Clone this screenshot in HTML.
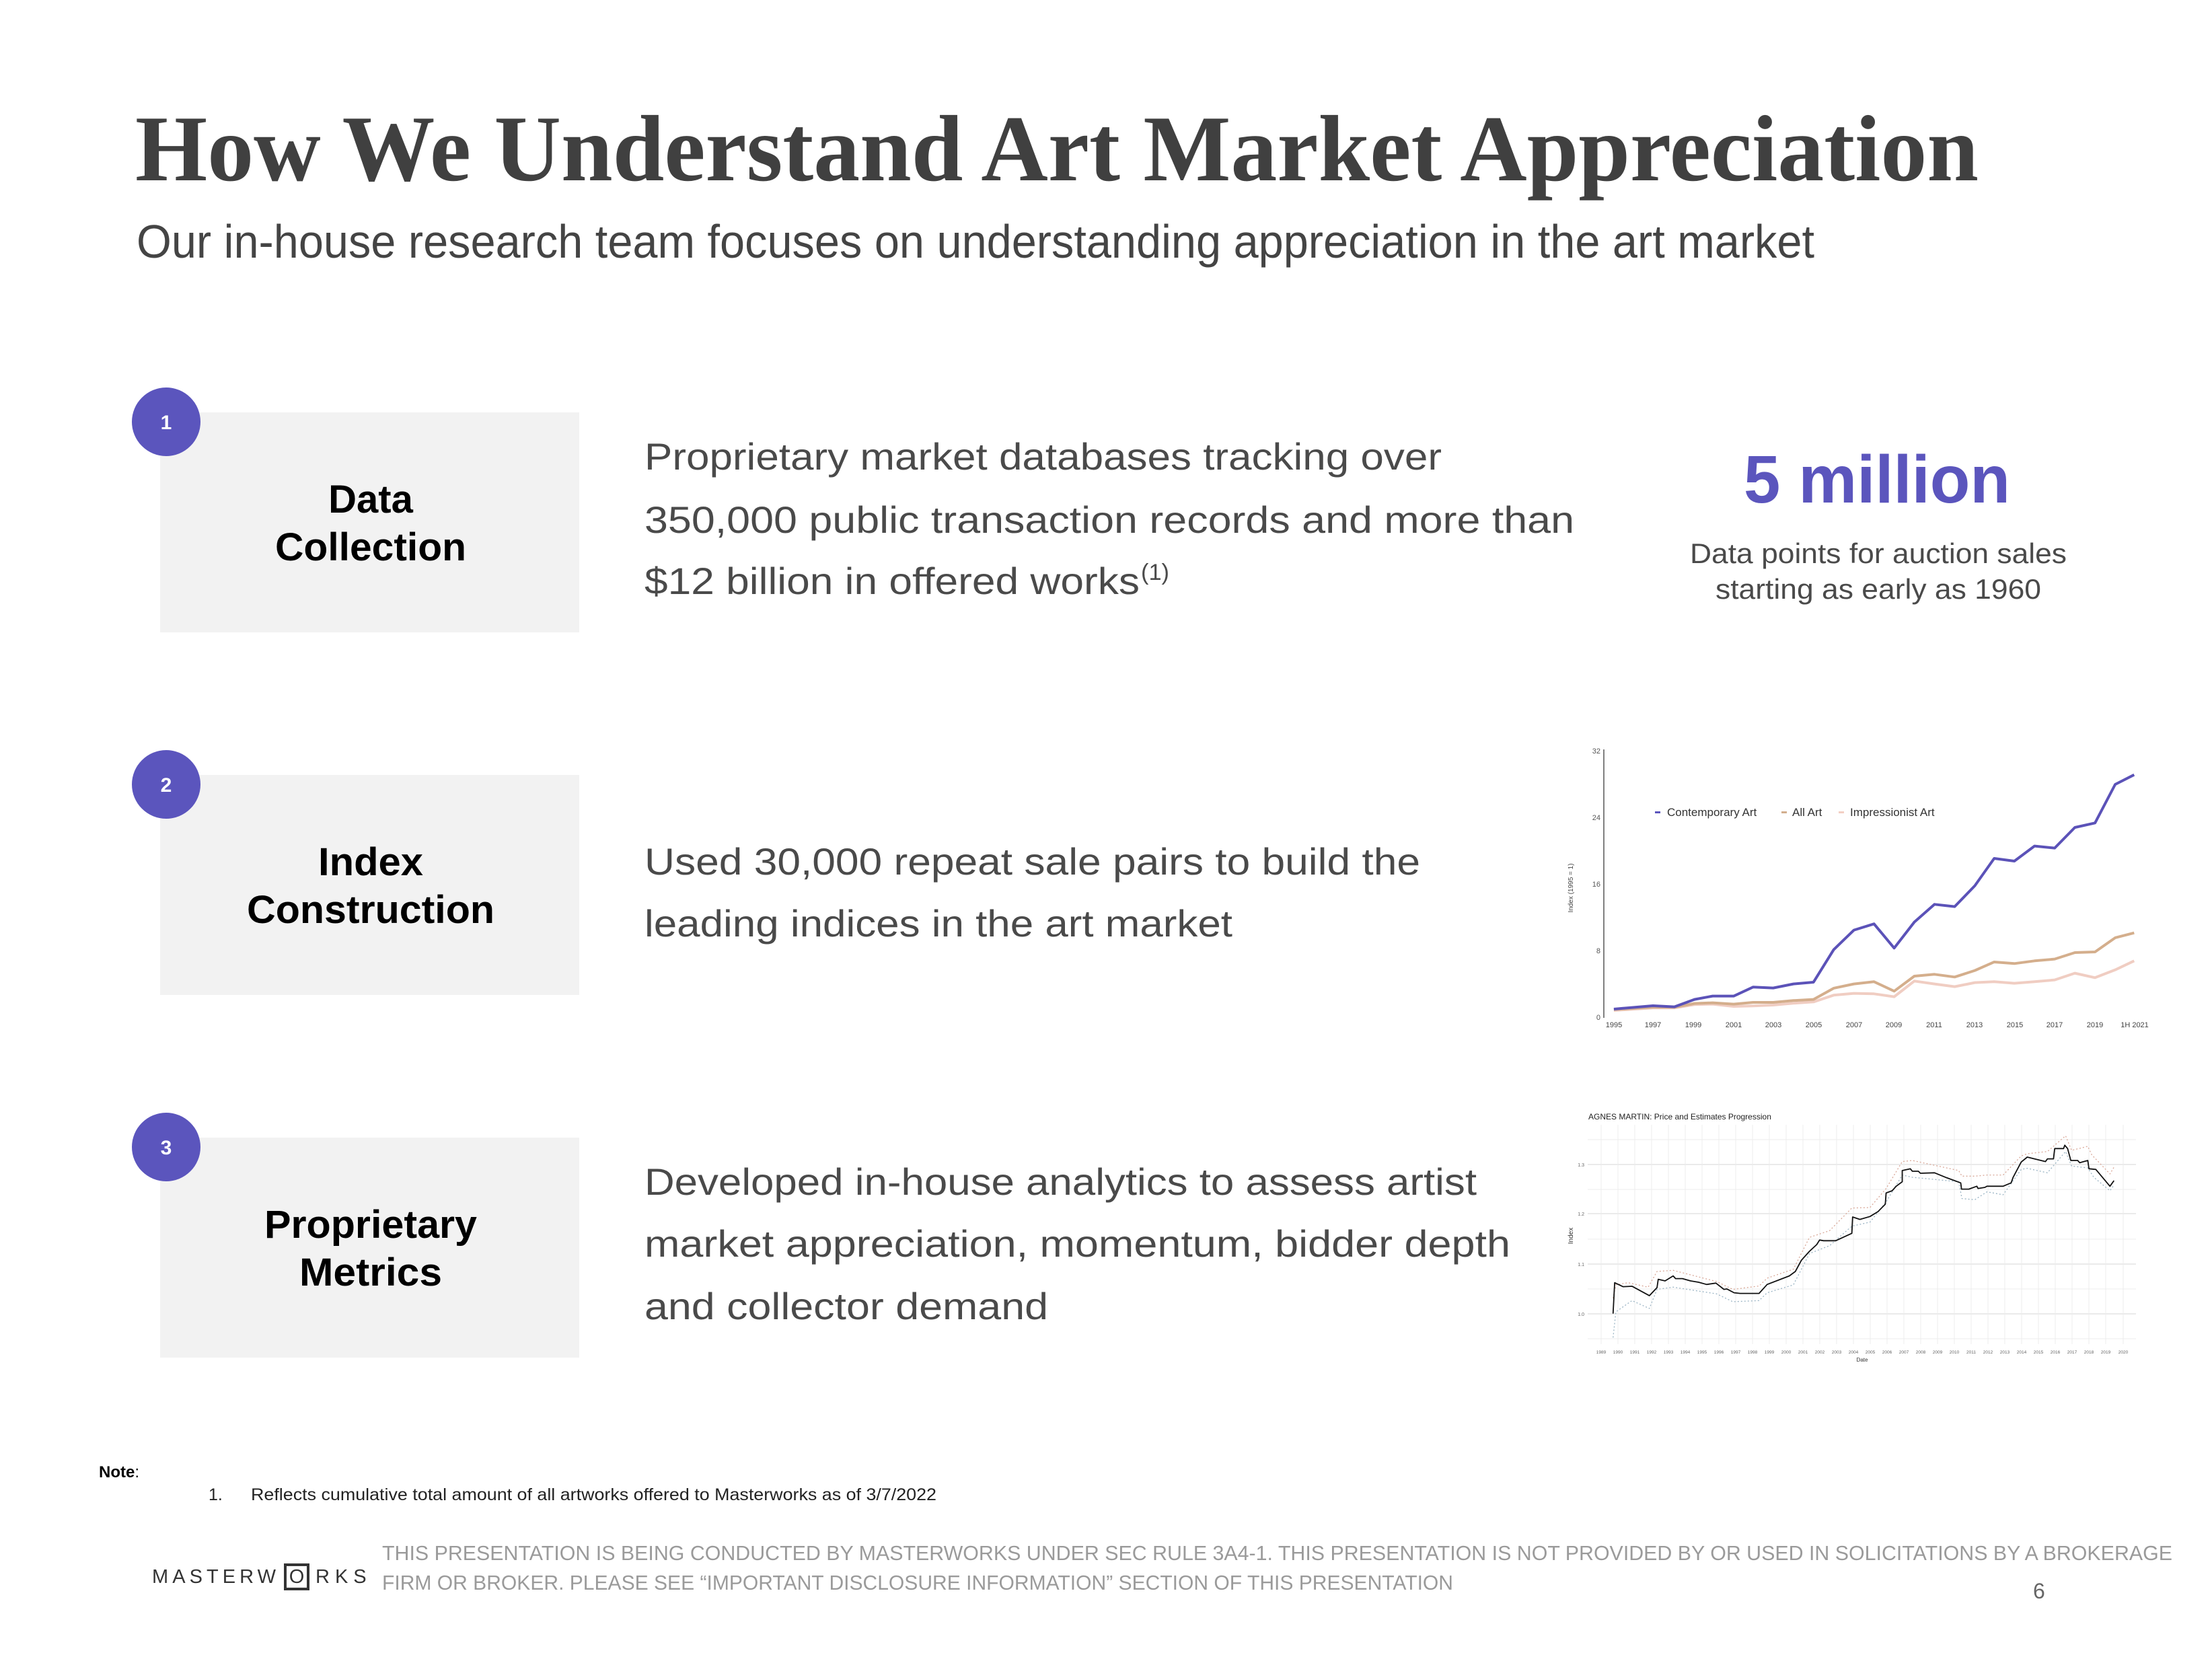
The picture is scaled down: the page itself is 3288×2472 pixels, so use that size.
<!DOCTYPE html>
<html><head><meta charset="utf-8"><style>html,body{margin:0;padding:0;background:#fff}svg{display:block}</style></head>
<body>
<svg width="3288" height="2472" viewBox="0 0 3288 2472" xmlns="http://www.w3.org/2000/svg" font-family="Liberation Sans, sans-serif">
<rect width="3288" height="2472" fill="#fff"/>
<text x="201" y="268" font-family="Liberation Serif, serif" font-weight="bold" font-size="140" fill="#404040" textLength="2740" lengthAdjust="spacingAndGlyphs">How We Understand Art Market Appreciation</text>
<text x="203" y="383" font-size="70" fill="#444" textLength="2494" lengthAdjust="spacingAndGlyphs">Our in-house research team focuses on understanding appreciation in the art market</text>

<g fill="#f2f2f2">
<rect x="238" y="613" width="623" height="327"/>
<rect x="238" y="1152" width="623" height="327"/>
<rect x="238" y="1691" width="623" height="327"/>
</g>
<g fill="#5b55bd">
<circle cx="247" cy="627" r="51"/><circle cx="247" cy="1166" r="51"/><circle cx="247" cy="1705" r="51"/>
</g>
<g fill="#fff" font-weight="bold" font-size="30" text-anchor="middle">
<text x="247" y="638">1</text><text x="247" y="1177">2</text><text x="247" y="1716">3</text>
</g>
<g font-weight="bold" font-size="58" fill="#000" text-anchor="middle">
<text x="551" y="762">Data</text>
<text x="551" y="833" textLength="284" lengthAdjust="spacingAndGlyphs">Collection</text>
<text x="551" y="1301" textLength="156" lengthAdjust="spacingAndGlyphs">Index</text>
<text x="551" y="1372" textLength="368" lengthAdjust="spacingAndGlyphs">Construction</text>
<text x="551" y="1840" textLength="316" lengthAdjust="spacingAndGlyphs">Proprietary</text>
<text x="551" y="1911" textLength="212" lengthAdjust="spacingAndGlyphs">Metrics</text>
</g>

<g font-size="56" fill="#4a4a4a">
<text x="958" y="698" textLength="1185" lengthAdjust="spacingAndGlyphs">Proprietary market databases tracking over</text>
<text x="958" y="792" textLength="1382" lengthAdjust="spacingAndGlyphs">350,000 public transaction records and more than</text>
<text x="958" y="883" textLength="736" lengthAdjust="spacingAndGlyphs">$12 billion in offered works</text>
<text x="1696" y="862" font-size="34" textLength="42" lengthAdjust="spacingAndGlyphs">(1)</text>
<text x="958" y="1300" textLength="1153" lengthAdjust="spacingAndGlyphs">Used 30,000 repeat sale pairs to build the</text>
<text x="958" y="1392" textLength="874" lengthAdjust="spacingAndGlyphs">leading indices in the art market</text>
<text x="958" y="1776" textLength="1237" lengthAdjust="spacingAndGlyphs">Developed in-house analytics to assess artist</text>
<text x="958" y="1868" textLength="1287" lengthAdjust="spacingAndGlyphs">market appreciation, momentum, bidder depth</text>
<text x="958" y="1961" textLength="600" lengthAdjust="spacingAndGlyphs">and collector demand</text>
</g>

<text x="2592" y="747" font-size="100" font-weight="bold" fill="#5b55bd" textLength="396" lengthAdjust="spacingAndGlyphs">5 million</text>
<text x="2512" y="837" font-size="42" fill="#4a4a4a" textLength="560" lengthAdjust="spacingAndGlyphs">Data points for auction sales</text>
<text x="2550" y="890" font-size="42" fill="#4a4a4a" textLength="484" lengthAdjust="spacingAndGlyphs">starting as early as 1960</text>

<!-- Chart 1 -->
<line x1="2384" y1="1114" x2="2384" y2="1513" stroke="#555" stroke-width="1.5"/>
<g font-size="11" fill="#555" text-anchor="end">
<text x="2379" y="1120">32</text><text x="2379" y="1219">24</text><text x="2379" y="1318">16</text><text x="2379" y="1417">8</text><text x="2379" y="1516">0</text>
</g>
<text transform="translate(2338,1320) rotate(-90)" font-size="10" fill="#444" text-anchor="middle">Index (1995 = 1)</text>
<g font-size="11" fill="#444" text-anchor="middle">
<text x="2399" y="1527">1995</text><text x="2457" y="1527">1997</text><text x="2517" y="1527">1999</text><text x="2577" y="1527">2001</text><text x="2636" y="1527">2003</text><text x="2696" y="1527">2005</text><text x="2756" y="1527">2007</text><text x="2815" y="1527">2009</text><text x="2875" y="1527">2011</text><text x="2935" y="1527">2013</text><text x="2995" y="1527">2015</text><text x="3054" y="1527">2017</text><text x="3114" y="1527">2019</text><text x="3173" y="1527">1H 2021</text>
</g>
<g font-size="17" fill="#333">
<rect x="2460" y="1206" width="8" height="3" fill="#5b55bd"/><text x="2478" y="1213">Contemporary Art</text>
<rect x="2648" y="1206" width="8" height="3" fill="#d2ae8e"/><text x="2664" y="1213">All Art</text>
<rect x="2733" y="1206" width="8" height="3" fill="#f3cfc4"/><text x="2750" y="1213">Impressionist Art</text>
</g>
<g transform="translate(2300,1090) scale(0.5995,0.3333)" fill="none" stroke-linejoin="round">
<polyline vector-effect="non-scaling-stroke" stroke="#f0cdc2" stroke-width="4" points="165,1236 262,1225 315,1225 365,1210 410,1208 462,1218 510,1216 560,1212 610,1204 660,1198 710,1168 760,1160 810,1162 860,1175 910,1105 960,1118 1010,1130 1060,1112 1108,1108 1158,1115 1208,1108 1258,1100 1308,1070 1358,1090 1408,1055 1455,1015"/>
<polyline vector-effect="non-scaling-stroke" stroke="#d4ae8c" stroke-width="4" points="165,1232 262,1222 315,1222 365,1205 410,1202 462,1208 510,1200 560,1200 610,1192 660,1187 710,1137 760,1118 810,1108 860,1150 910,1083 960,1075 1010,1087 1060,1058 1108,1020 1158,1027 1208,1015 1258,1007 1308,978 1358,975 1408,912 1455,890"/>
<polyline vector-effect="non-scaling-stroke" stroke="#5b52b8" stroke-width="4" points="165,1230 262,1215 315,1220 365,1187 410,1172 462,1172 510,1132 560,1136 610,1118 660,1110 710,965 760,878 810,850 860,958 910,842 960,763 1010,773 1060,680 1108,558 1158,570 1208,503 1258,512 1308,420 1358,400 1408,228 1455,185"/>
</g>

<!-- Chart 2 -->
<text x="2361" y="1664" font-size="12" fill="#222">AGNES MARTIN: Price and Estimates Progression</text>
<g stroke="#ececec" stroke-width="1">
<line x1="2360" x2="3175" y1="1990" y2="1990"/><line x1="2360" x2="3175" y1="1916" y2="1916"/><line x1="2360" x2="3175" y1="1842" y2="1842"/><line x1="2360" x2="3175" y1="1768" y2="1768"/><line x1="2360" x2="3175" y1="1694" y2="1694"/>
</g>
<g stroke="#e4e4e4" stroke-width="1.5">
<line x1="2360" x2="3175" y1="1953" y2="1953"/><line x1="2360" x2="3175" y1="1879" y2="1879"/><line x1="2360" x2="3175" y1="1804" y2="1804"/><line x1="2360" x2="3175" y1="1731" y2="1731"/>
</g>
<g stroke="#ececec" stroke-width="1">
<path d="M2380 1672V1998M2405 1672V1998M2430 1672V1998M2455 1672V1998M2480 1672V1998M2505 1672V1998M2530 1672V1998M2555 1672V1998M2580 1672V1998M2605 1672V1998M2630 1672V1998M2655 1672V1998M2680 1672V1998M2705 1672V1998M2730 1672V1998M2755 1672V1998M2780 1672V1998M2805 1672V1998M2830 1672V1998M2855 1672V1998M2880 1672V1998M2905 1672V1998M2930 1672V1998M2955 1672V1998M2980 1672V1998M3005 1672V1998M3030 1672V1998M3055 1672V1998M3080 1672V1998M3105 1672V1998M3130 1672V1998M3156 1672V1998"/>
</g>
<g font-size="7" fill="#666" text-anchor="end">
<text x="2355" y="1956">1.0</text><text x="2355" y="1882">1.1</text><text x="2355" y="1807">1.2</text><text x="2355" y="1734">1.3</text>
</g>
<text transform="translate(2338,1837) rotate(-90)" font-size="10" fill="#333" text-anchor="middle">Index</text>
<g font-size="6.5" fill="#666" text-anchor="middle">
<text x="2380" y="2012">1989</text><text x="2405" y="2012">1990</text><text x="2430" y="2012">1991</text><text x="2455" y="2012">1992</text><text x="2480" y="2012">1993</text><text x="2505" y="2012">1994</text><text x="2530" y="2012">1995</text><text x="2555" y="2012">1996</text><text x="2580" y="2012">1997</text><text x="2605" y="2012">1998</text><text x="2630" y="2012">1999</text><text x="2655" y="2012">2000</text><text x="2680" y="2012">2001</text><text x="2705" y="2012">2002</text><text x="2730" y="2012">2003</text><text x="2755" y="2012">2004</text><text x="2780" y="2012">2005</text><text x="2805" y="2012">2006</text><text x="2830" y="2012">2007</text><text x="2855" y="2012">2008</text><text x="2880" y="2012">2009</text><text x="2905" y="2012">2010</text><text x="2930" y="2012">2011</text><text x="2955" y="2012">2012</text><text x="2980" y="2012">2013</text><text x="3005" y="2012">2014</text><text x="3030" y="2012">2015</text><text x="3055" y="2012">2016</text><text x="3080" y="2012">2017</text><text x="3105" y="2012">2018</text><text x="3130" y="2012">2019</text><text x="3156" y="2012">2020</text>
</g>
<text x="2768" y="2024" font-size="8" fill="#333" text-anchor="middle">Date</text>
<g transform="translate(2300,1630) scale(0.5995,0.3333)" fill="none" stroke-linejoin="round">
<polyline vector-effect="non-scaling-stroke" stroke="#d9a898" stroke-width="1.3" stroke-dasharray="2,3" points="163,900 170,840 200,830 250,850 272,780 312,775 420,825 460,860 525,845 545,810 610,770 650,628 700,598 755,497 800,495 840,410 880,290 905,285 1020,330 1028,355 1060,355 1090,350 1130,350 1175,265 1190,255 1240,245 1285,175 1300,240 1340,222 1350,260 1395,345 1405,315"/>
<polyline vector-effect="non-scaling-stroke" stroke="#9ab4c4" stroke-width="1.3" stroke-dasharray="2,3" points="163,1075 170,960 210,910 253,945 272,860 312,850 420,880 460,915 525,910 545,875 610,840 650,700 700,665 755,578 800,560 840,470 880,350 905,360 1020,380 1028,455 1060,460 1090,425 1130,438 1175,325 1190,320 1240,340 1285,245 1300,310 1340,318 1355,360 1395,420 1405,395"/>
<polyline vector-effect="non-scaling-stroke" stroke="#111" stroke-width="1.8" points="163,968 167,830 188,848 210,846 253,888 272,852 275,815 292,822 312,800 318,812 335,812 355,822 375,828 395,838 418,832 438,860 445,858 463,875 478,878 525,878 545,838 600,800 615,780 630,730 650,690 668,660 675,640 685,643 715,643 755,610 757,537 775,548 800,535 820,513 838,480 840,430 855,420 865,400 880,380 880,330 900,322 905,333 920,333 925,342 960,340 990,362 1025,385 1027,413 1045,413 1065,400 1068,410 1085,405 1090,400 1130,400 1150,385 1155,360 1175,292 1190,270 1235,290 1240,278 1255,278 1258,232 1280,232 1283,217 1290,232 1298,285 1315,285 1320,295 1340,285 1343,322 1360,325 1395,400 1405,375"/>
</g>

<!-- Footer -->
<text x="147" y="2196" font-size="24" font-weight="bold" fill="#000">Note<tspan font-weight="normal">:</tspan></text>
<text x="310" y="2230" font-size="25" fill="#222">1.</text>
<text x="373" y="2230" font-size="25" fill="#222" textLength="1019" lengthAdjust="spacingAndGlyphs">Reflects cumulative total amount of all artworks offered to Masterworks as of 3/7/2022</text>
<text x="568" y="2319" font-size="31" fill="#9a9a9a" textLength="2661" lengthAdjust="spacingAndGlyphs">THIS PRESENTATION  IS BEING CONDUCTED BY MASTERWORKS UNDER SEC RULE 3A4-1. THIS PRESENTATION  IS NOT PROVIDED BY OR USED IN SOLICITATIONS BY A BROKERAGE</text>
<text x="568" y="2363" font-size="31" fill="#9a9a9a" textLength="1592" lengthAdjust="spacingAndGlyphs">FIRM OR BROKER. PLEASE SEE “IMPORTANT DISCLOSURE INFORMATION” SECTION OF THIS PRESENTATION</text>
<text x="226" y="2353" font-size="29" fill="#333" textLength="192" lengthAdjust="spacing" letter-spacing="8">MASTERW</text>
<rect x="424" y="2326" width="34" height="36" fill="none" stroke="#333" stroke-width="4"/>
<text x="441" y="2353" font-size="29" fill="#333" text-anchor="middle">O</text>
<text x="469" y="2353" font-size="29" fill="#333" letter-spacing="8">RKS</text>
<text x="3022" y="2376" font-size="32" fill="#666">6</text>
</svg>
</body></html>
